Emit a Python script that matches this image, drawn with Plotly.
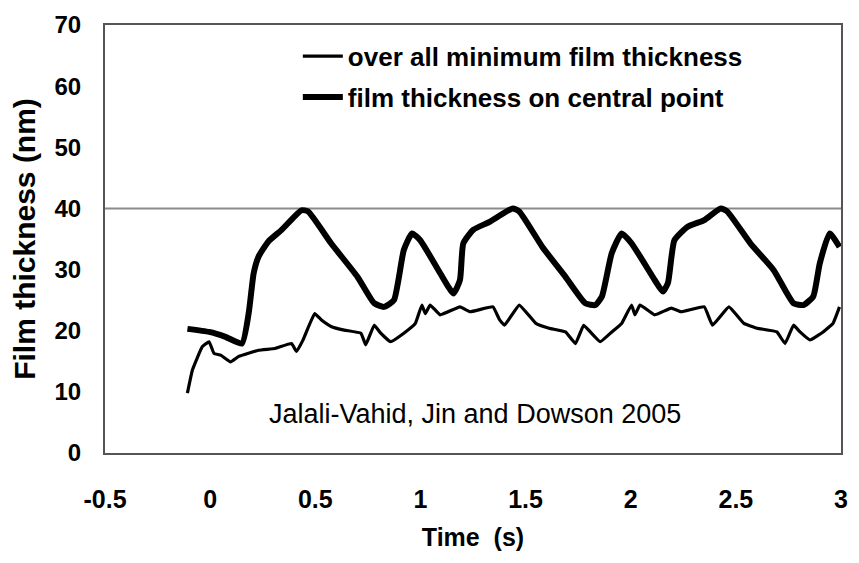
import plotly.graph_objects as go

# Film thickness on the central point (thick curve)
t_central = [-0.108, -0.005, 0.073, 0.151, 0.183, 0.207, 0.230, 0.277, 0.340, 0.434, 0.466,
             0.575, 0.701, 0.780, 0.827, 0.874, 0.921, 0.960, 0.999, 1.094, 1.157, 1.188,
             1.204, 1.251, 1.329, 1.439, 1.470, 1.580, 1.690, 1.784, 1.832, 1.863, 1.910,
             1.957, 2.004, 2.114, 2.153, 2.177, 2.208, 2.271, 2.350, 2.428, 2.459, 2.569,
             2.680, 2.774, 2.821, 2.868, 2.899, 2.946, 2.993]
h_central = [20.3, 19.8, 19.0, 17.9, 22.8, 29.4, 32.1, 34.6, 36.5, 39.7, 39.5,
             34.3, 28.8, 24.5, 23.9, 25.0, 33.2, 35.9, 34.8, 29.4, 26.1, 28.3,
             34.3, 36.5, 37.8, 40.0, 39.5, 33.7, 28.8, 24.5, 24.2, 25.6, 32.7,
             35.9, 34.3, 28.3, 26.4, 27.8, 34.8, 37.0, 38.1, 40.0, 39.5, 34.3,
             29.9, 24.5, 24.2, 25.6, 31.0, 35.9, 33.7]

# Overall minimum film thickness (thin curve)
t_min = [-0.108, -0.084, -0.037, -0.005, 0.018, 0.050, 0.097, 0.136, 0.230, 0.309, 0.387,
         0.411, 0.442, 0.497, 0.528, 0.575, 0.638, 0.717, 0.740, 0.780, 0.811, 0.858,
         0.921, 0.976, 1.007, 1.023, 1.046, 1.094, 1.188, 1.235, 1.345, 1.376, 1.400,
         1.470, 1.549, 1.612, 1.690, 1.737, 1.776, 1.808, 1.855, 1.910, 1.957, 2.004,
         2.020, 2.044, 2.114, 2.193, 2.240, 2.350, 2.389, 2.467, 2.538, 2.601, 2.695,
         2.734, 2.774, 2.805, 2.852, 2.915, 2.962, 2.993]
h_min = [9.8, 13.6, 17.4, 18.2, 16.3, 16.0, 14.9, 15.8, 16.8, 17.1, 17.9,
         16.6, 18.5, 22.8, 21.8, 20.7, 20.1, 19.6, 17.7, 20.9, 19.6, 18.2,
         19.6, 21.2, 24.2, 22.8, 24.2, 22.6, 23.9, 23.1, 23.9, 21.8, 20.9,
         24.2, 21.2, 20.4, 19.8, 17.9, 20.9, 19.8, 18.2, 19.8, 21.2, 24.2,
         22.6, 24.2, 22.6, 23.7, 23.1, 23.9, 20.9, 23.9, 21.2, 20.4, 19.8,
         17.9, 20.9, 19.8, 18.5, 19.8, 21.2, 23.9]

x_ticks = [-0.5, 0, 0.5, 1, 1.5, 2, 2.5, 3]
x_tick_text = ["-0.5", "0", "0.5", "1", "1.5", "2", "2.5", "3"]
y_ticks = [0, 10, 20, 30, 40, 50, 60, 70]
ref_level = 40
citation = "Jalali-Vahid, Jin and Dowson 2005"

font = "Liberation Sans, Arial, sans-serif"

fig = go.Figure()
fig.add_trace(go.Scatter(
    x=t_min, y=h_min, mode="lines", name="over all minimum film thickness",
    line=dict(color="black", width=3.2, shape="spline", smoothing=0.3), legendgroup="a"))
fig.add_trace(go.Scatter(
    x=t_central, y=h_central, mode="lines", name="film thickness on central point",
    line=dict(color="black", width=6, shape="spline", smoothing=0.5), legendgroup="b"))

fig.add_shape(type="line", xref="paper", x0=0, x1=1, yref="y", y0=ref_level, y1=ref_level,
              line=dict(color="#8a8a8a", width=2), layer="below")

fig.add_annotation(x=1.26, y=6.4, xref="x", yref="y", text=citation, showarrow=False,
                   font=dict(family=font, size=27, color="black"))

fig.update_layout(
    width=859, height=563,
    margin=dict(l=105, r=11, t=25, b=110),
    paper_bgcolor="white", plot_bgcolor="white",
    showlegend=True,
    legend=dict(x=0.262, y=0.982, xanchor="left", yanchor="top",
                font=dict(family=font, size=26, color="black", weight="bold"),
                bgcolor="rgba(0,0,0,0)", tracegroupgap=4, itemwidth=40),
    xaxis=dict(range=[-0.5, 3], tickvals=x_ticks, ticktext=x_tick_text,
               showgrid=False, zeroline=False, showline=True, mirror=True,
               linecolor="#555", linewidth=2, ticks="", ticklabelstandoff=23,
               tickfont=dict(family=font, size=25, color="black", weight="bold"),
               title=dict(text="Time  (s)", standoff=16,
                          font=dict(family=font, size=25, color="black", weight="bold"))),
    yaxis=dict(range=[0, 70], tickvals=y_ticks,
               showgrid=False, zeroline=False, showline=True, mirror=True,
               linecolor="#555", linewidth=2, ticks="", ticklabelstandoff=17,
               tickfont=dict(family=font, size=24, color="black", weight="bold"),
               title=dict(text="Film thickness (nm)", standoff=10,
                          font=dict(family=font, size=30, color="black", weight="bold"))),
)

fig.write_html("out.html")
